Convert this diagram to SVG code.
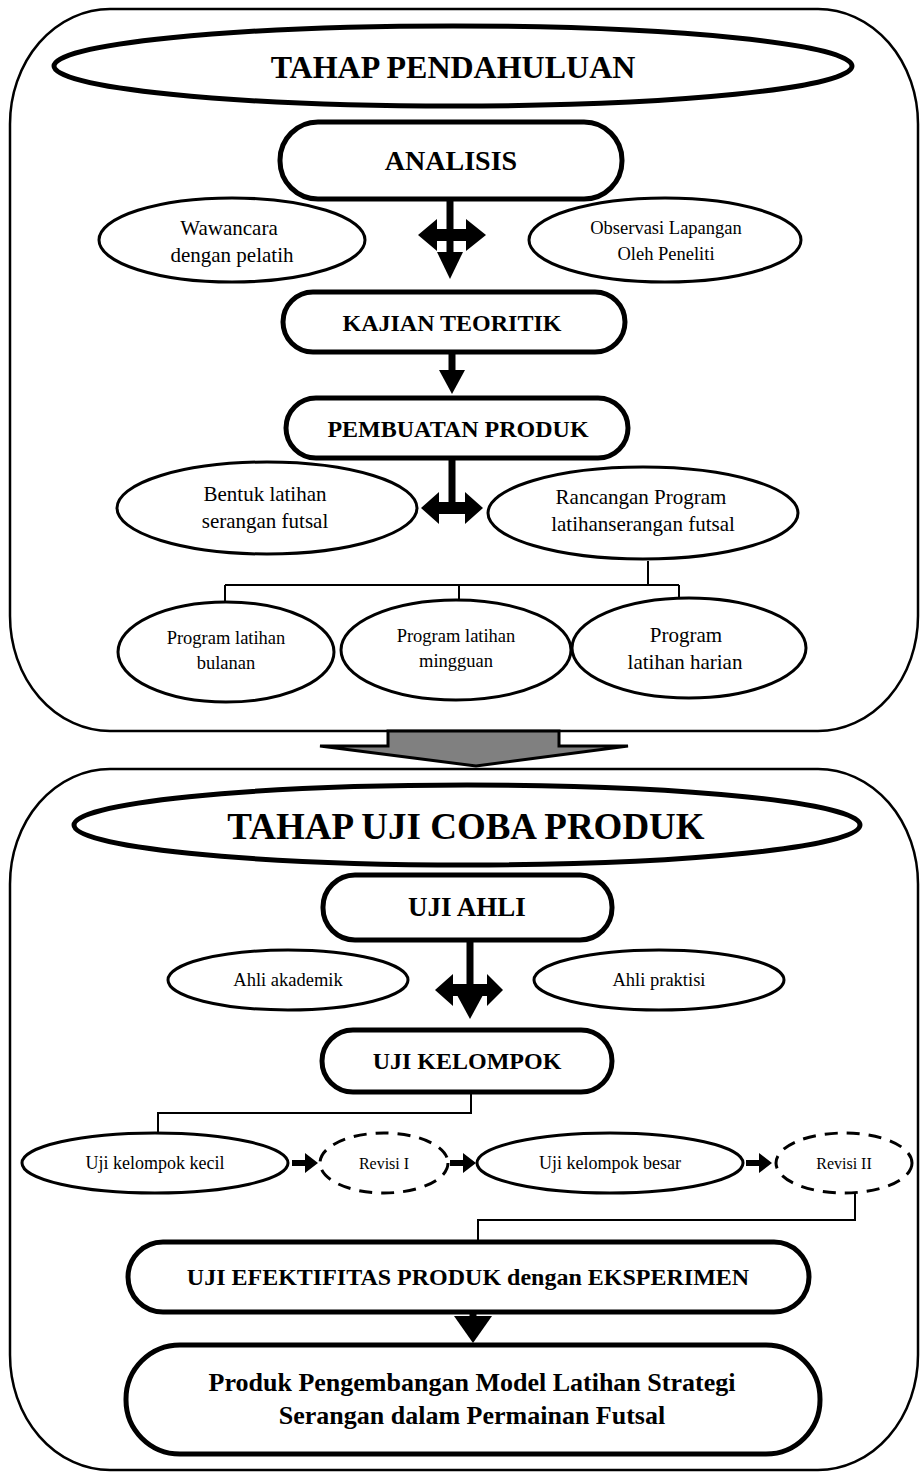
<svg xmlns="http://www.w3.org/2000/svg" width="921" height="1475" viewBox="0 0 921 1475">
<style>
text{font-family:"Liberation Serif","Times New Roman",serif;fill:#000;text-anchor:middle}
.b{font-weight:bold}
.cont{fill:none;stroke:#000;stroke-width:2.5}
.title{fill:#fff;stroke:#000;stroke-width:5}
.box{fill:#fff;stroke:#000;stroke-width:5}
.el{fill:#fff;stroke:#000;stroke-width:3}
.dash{fill:#fff;stroke:#000;stroke-width:3;stroke-dasharray:13 9}
.ln{fill:none;stroke:#000;stroke-width:2}
.sh{fill:none;stroke:#000;stroke-width:7}
.ah{fill:#000;stroke:none}
</style>
<rect width="921" height="1475" fill="#fff"/>
<g id="stage1">
<rect x="10" y="9" width="908" height="722" rx="100" ry="115" class="cont"/>
</g>
<g id="stage2">
<rect x="10" y="769" width="908" height="701" rx="100" ry="115" class="cont"/>
</g>
<g id="connectors">
<path class="ah" d="M418,235 L437,219 L437,229 L466,229 L466,219 L486,235 L466,251 L466,241 L437,241 L437,251 Z"/>
<line class="sh" x1="450" y1="198" x2="450" y2="255"/>
<path class="ah" d="M437,252 L463,252 L450,279 Z"/>
<line class="sh" x1="452" y1="354" x2="452" y2="372"/>
<path class="ah" d="M439,370 L465,370 L452,394 Z"/>
<path class="ah" d="M421,508 L439,492 L439,502 L465,502 L465,492 L483,508 L465,524 L465,514 L439,514 L439,524 Z"/>
<line class="sh" x1="452" y1="460" x2="452" y2="512"/>
<path class="ln" d="M648,561 V585 M225,585 H679 M225,585 V602 M459,585 V602 M679,585 V600"/>
<path d="M388,731 L559,731 L559,746 L628,746 L476,766 L320,746 L388,746 Z" fill="#808080" stroke="#000" stroke-width="3"/>
<path class="ah" d="M435,990 L453,974 L453,984 L487,984 L487,974 L503,990 L487,1006 L487,996 L453,996 L453,1006 Z"/>
<line class="sh" x1="470" y1="940" x2="470" y2="997"/>
<path class="ah" d="M457,995 L483,995 L470,1019 Z"/>
<path class="ln" d="M471,1092 V1113 H158 V1133"/>
<path class="ah" d="M292,1160 H305 V1153 L318,1163 L305,1173 V1166 H292 Z"/>
<path class="ah" d="M450,1160 H463 V1153 L476,1163 L463,1173 V1166 H450 Z"/>
<path class="ah" d="M746,1160 H759 V1153 L772,1163 L759,1173 V1166 H746 Z"/>
<path class="ln" d="M855,1193 V1220 H478 V1242"/>
<line class="sh" x1="473" y1="1312" x2="473" y2="1322"/>
<path class="ah" d="M454,1316 L492,1316 L473,1343 Z"/>
</g>
<g id="title1">
<ellipse cx="453" cy="66" rx="399" ry="40" class="title"/>
<text x="453" y="78" class="b" font-size="32">TAHAP PENDAHULUAN</text>
</g>
<g id="analisis">
<rect x="280" y="122" width="342" height="77" rx="38" class="box"/>
<text x="451" y="170" class="b" font-size="28">ANALISIS</text>
</g>
<g id="wawancara">
<ellipse cx="232" cy="240" rx="133" ry="42" class="el"/>
<text x="229" y="235" font-size="21">Wawancara</text>
<text x="232" y="262" font-size="21">dengan pelatih</text>
</g>
<g id="observasi">
<ellipse cx="665" cy="240" rx="136" ry="42" class="el"/>
<text x="666" y="234" font-size="18.5">Observasi Lapangan</text>
<text x="666" y="260" font-size="18.5">Oleh Peneliti</text>
</g>
<g id="kajian">
<rect x="283" y="292" width="342" height="60" rx="30" class="box"/>
<text x="452" y="331" class="b" font-size="24">KAJIAN TEORITIK</text>
</g>
<g id="pembuatan">
<rect x="286" y="398" width="342" height="60" rx="30" class="box"/>
<text x="458" y="437" class="b" font-size="24">PEMBUATAN PRODUK</text>
</g>
<g id="bentuk">
<ellipse cx="267" cy="508" rx="150" ry="46" class="el"/>
<text x="265" y="501" font-size="21">Bentuk latihan</text>
<text x="265" y="528" font-size="21">serangan futsal</text>
</g>
<g id="rancangan">
<ellipse cx="643" cy="513" rx="155" ry="46" class="el"/>
<text x="641" y="504" font-size="21">Rancangan Program</text>
<text x="643" y="531" font-size="21">latihanserangan futsal</text>
</g>
<g id="bulanan">
<ellipse cx="226" cy="652" rx="108" ry="50" class="el"/>
<text x="226" y="644" font-size="18.5">Program latihan</text>
<text x="226" y="669" font-size="18.5">bulanan</text>
</g>
<g id="mingguan">
<ellipse cx="456" cy="650" rx="115" ry="50" class="el"/>
<text x="456" y="642" font-size="18.5">Program latihan</text>
<text x="456" y="667" font-size="18.5">mingguan</text>
</g>
<g id="harian">
<ellipse cx="689" cy="648" rx="117" ry="50" class="el"/>
<text x="686" y="642" font-size="21">Program</text>
<text x="685" y="669" font-size="21">latihan harian</text>
</g>
<g id="title2">
<ellipse cx="467" cy="825" rx="393" ry="40" class="title"/>
<text x="466" y="839" class="b" font-size="37">TAHAP UJI COBA PRODUK</text>
</g>
<g id="ujiahli">
<rect x="323" y="875" width="289" height="65" rx="32" class="box"/>
<text x="467" y="916" class="b" font-size="27">UJI AHLI</text>
</g>
<g id="akademik">
<ellipse cx="288" cy="980" rx="120" ry="30" class="el"/>
<text x="288" y="986" font-size="18.5">Ahli akademik</text>
</g>
<g id="praktisi">
<ellipse cx="659" cy="980" rx="125" ry="30" class="el"/>
<text x="659" y="986" font-size="18.5">Ahli praktisi</text>
</g>
<g id="ujikelompok">
<rect x="322" y="1030" width="290" height="62" rx="31" class="box"/>
<text x="467" y="1069" class="b" font-size="24">UJI KELOMPOK</text>
</g>
<g id="kecil">
<ellipse cx="155" cy="1163" rx="133" ry="30" class="el"/>
<text x="155" y="1169" font-size="18">Uji kelompok kecil</text>
</g>
<g id="revisi1">
<ellipse cx="384" cy="1163" rx="64" ry="30" class="dash"/>
<text x="384" y="1169" font-size="16">Revisi I</text>
</g>
<g id="besar">
<ellipse cx="610" cy="1163" rx="133" ry="30" class="el"/>
<text x="610" y="1169" font-size="18">Uji kelompok besar</text>
</g>
<g id="revisi2">
<ellipse cx="844" cy="1163" rx="68" ry="30" class="dash"/>
<text x="844" y="1169" font-size="16">Revisi II</text>
</g>
<g id="efektifitas">
<rect x="128" y="1242" width="681" height="70" rx="35" class="box"/>
<text x="468" y="1285" class="b" font-size="24">UJI EFEKTIFITAS PRODUK dengan EKSPERIMEN</text>
</g>
<g id="produk">
<rect x="126" y="1345" width="694" height="109" rx="54" class="box"/>
<text x="472" y="1391" class="b" font-size="26">Produk Pengembangan Model Latihan Strategi</text>
<text x="472" y="1424" class="b" font-size="26">Serangan dalam Permainan Futsal</text>
</g>
</svg>
